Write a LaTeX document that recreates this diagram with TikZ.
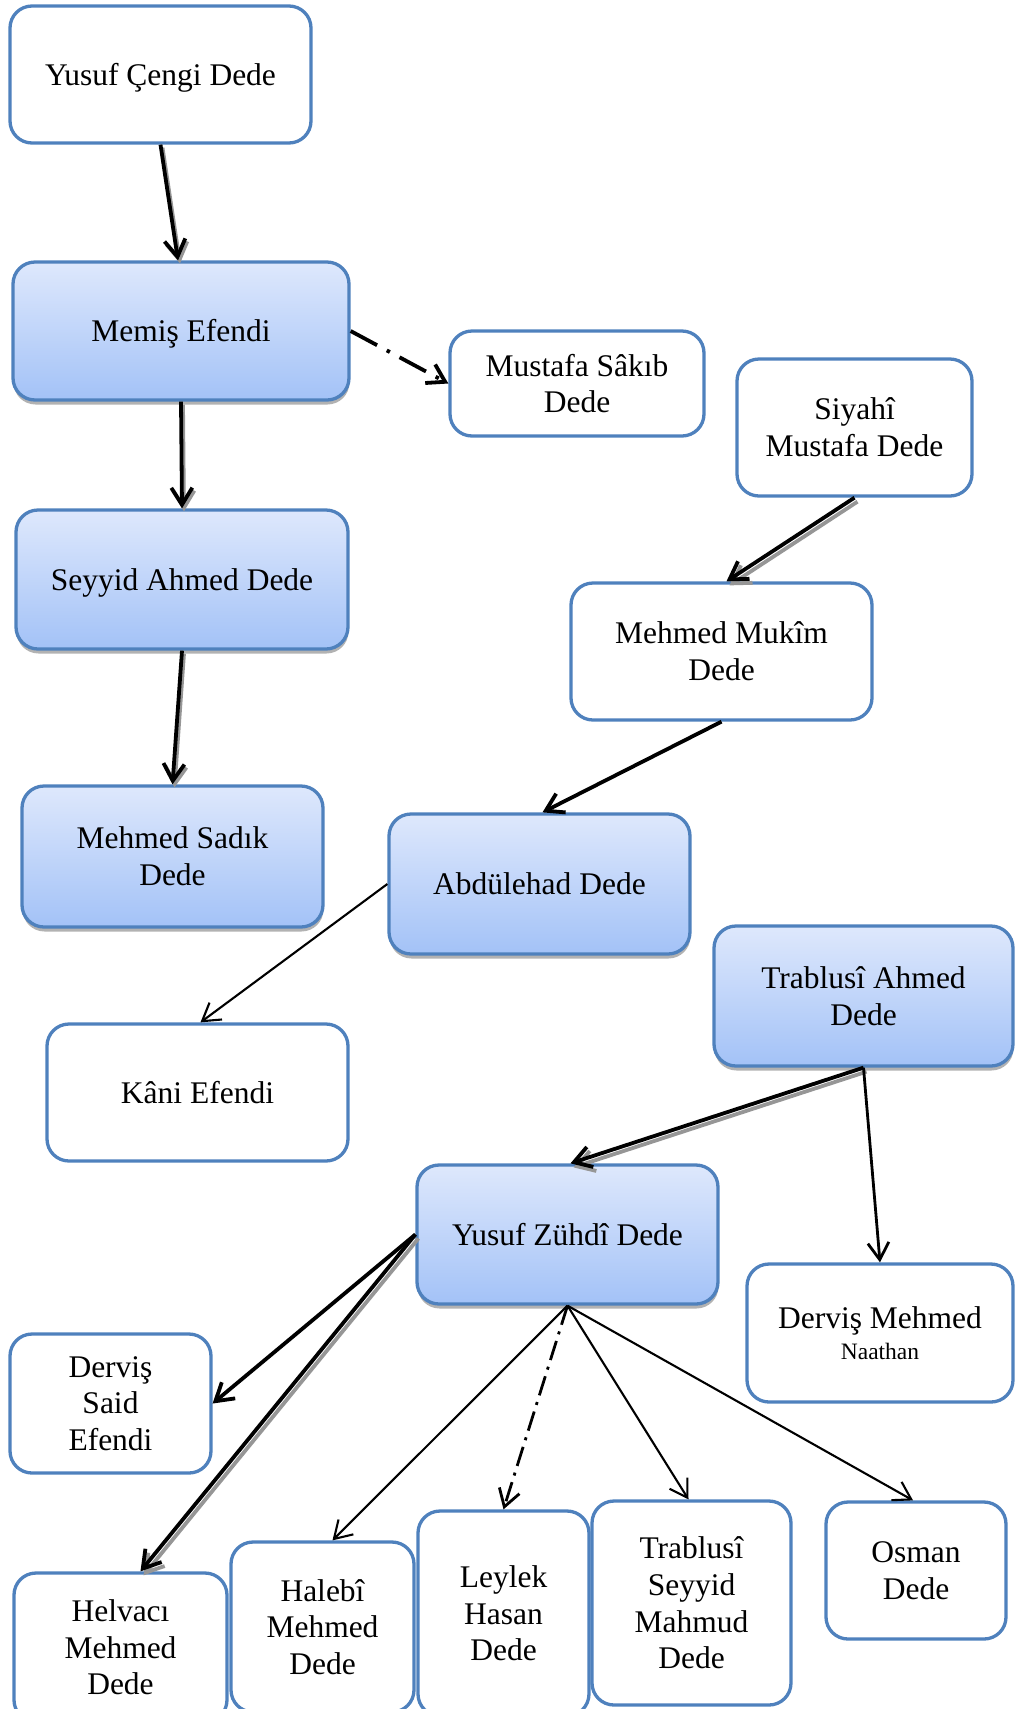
\documentclass[tikz,border=0pt]{standalone}
\usepackage{fontspec}
\setmainfont{Liberation Serif}
\usetikzlibrary{arrows.meta,shadows,calc}
\definecolor{bordblue}{RGB}{79,129,189}
\definecolor{gtop}{RGB}{222,232,252}
\definecolor{gbot}{RGB}{163,194,247}
\definecolor{shcol}{RGB}{150,150,150}
\tikzset{
 box/.style={draw=bordblue, line width=3.3pt, rounded corners=22pt, fill=white, align=center, inner sep=0pt, font=\fontsize{31.5}{36.7}\selectfont},
 oneline/.style={text height=28pt, text depth=6.8pt},
 gbox/.style={box, top color=gtop, bottom color=gbot, drop shadow={shadow xshift=0.5pt, shadow yshift=-4.5pt, fill=gray!60, opacity=1}},
 barb/.style={-{Straight Barb[length=17pt,width=21pt]}},
 thickarrow/.style={barb, line width=3.8pt},
 medarrow/.style={barb, line width=2.8pt},
 thinarrow/.style={barb, line width=2.1pt},
 shadowline/.style={draw=shcol},
 dashdot/.style={dash pattern=on 30pt off 11pt on 3.5pt off 11pt},
 dashdotb/.style={dash pattern=on 20pt off 7pt on 3pt off 7pt},
}
\begin{document}
\begin{tikzpicture}[x=1pt,y=-1pt]
\useasboundingbox (0,0) rectangle (1016,1709);
\clip (0,0) rectangle (1016,1709);
% nodes
\node[box, oneline, minimum width=301pt, minimum height=137pt] (ycengi) at (160.5,74.5) {Yusuf Çengi Dede};
\node[gbox, oneline, minimum width=336pt, minimum height=138pt] (memis) at (181,331) {Memiş Efendi};
\node[box, minimum width=254pt, minimum height=105pt] (mustafa) at (577,383.5) {Mustafa Sâkıb\\Dede};
\node[box, minimum width=235pt, minimum height=137pt] (siyahi) at (854.5,427.5) {Siyahî\\Mustafa Dede};
\node[gbox, oneline, minimum width=332pt, minimum height=139pt] (seyyid) at (182,579.5) {Seyyid Ahmed Dede};
\node[box, minimum width=301pt, minimum height=137pt] (mukim) at (721.5,651.5) {Mehmed Mukîm\\Dede};
\node[gbox, minimum width=301pt, minimum height=141pt] (sadik) at (172.5,856.5) {Mehmed Sadık\\Dede};
\node[gbox, oneline, minimum width=301pt, minimum height=140pt] (abdulehad) at (539.5,884) {Abdülehad Dede};
\node[gbox, minimum width=299pt, minimum height=140pt] (trablusi) at (863.5,996) {Trablusî Ahmed\\Dede};
\node[box, oneline, minimum width=301pt, minimum height=137pt] (kani) at (197.5,1092.5) {Kâni Efendi};
\node[gbox, oneline, minimum width=301pt, minimum height=139pt] (zuhdi) at (567.5,1234.5) {Yusuf Zühdî Dede};
\node[box, minimum width=266pt, minimum height=138pt] (dmehmed) at (880,1333) {Derviş Mehmed\\[-6pt]{\fontsize{23.5}{36.7}\selectfont Naathan}};
\node[box, minimum width=201pt, minimum height=139pt] (said) at (110.5,1403.5) {Derviş\\Said\\Efendi};
\node[box, minimum width=213pt, minimum height=149pt] (helvaci) at (120.5,1647.5) {Helvacı\\Mehmed\\Dede};
\node[box, minimum width=183pt, minimum height=170pt] (halebi) at (322.5,1627) {Halebî\\Mehmed\\Dede};
\node[box, minimum width=171pt, minimum height=205pt] (leylek) at (503.5,1613.5) {Leylek\\Hasan\\Dede};
\node[box, minimum width=199pt, minimum height=204pt] (tseyyid) at (691.5,1603) {Trablusî\\Seyyid\\Mahmud\\Dede};
\node[box, minimum width=180pt, minimum height=137pt] (osman) at (916,1570.5) {Osman\\Dede};
% connector shadows
\draw[thickarrow, shadowline] ([shift={(2pt,-3pt)}]ycengi.south) -- ([shift={(-1pt,-3pt)}]memis.north);
\draw[thickarrow, shadowline] ([shift={(2pt,-3pt)}]memis.south) -- ([shift={(2pt,-3pt)}]seyyid.north);
\draw[thickarrow, shadowline] ([shift={(2pt,-3pt)}]seyyid.south) -- ([shift={(2pt,-3pt)}]sadik.north);
\draw[thickarrow, shadowline] ([shift={(3pt,-4pt)}]siyahi.south) -- ([shift={(8pt,-4pt)}]mukim.north);
\draw[thickarrow, shadowline] ([shift={(3pt,-4pt)}]trablusi.south) -- ([shift={(6pt,-4pt)}]zuhdi.north);
\draw[thickarrow, shadowline] ([shift={(3pt,-4pt)}]zuhdi.west) -- ([shift={(23pt,-4pt)}]helvaci.north);
% connectors
\draw[thickarrow] (ycengi.south) -- ([xshift=-3pt]memis.north);
\draw[thickarrow, dashdot] (memis.east) -- (mustafa.west);
\draw[thickarrow] (memis.south) -- (seyyid.north);
\draw[thickarrow] (seyyid.south) -- (sadik.north);
\draw[thickarrow] (siyahi.south) -- ([xshift=5pt]mukim.north);
\draw[thickarrow] (mukim.south) -- ([xshift=3pt]abdulehad.north);
\draw[thinarrow] (abdulehad.west) -- ([xshift=3pt]kani.north);
\draw[thickarrow] (trablusi.south) -- ([xshift=3pt]zuhdi.north);
\draw[medarrow] (trablusi.south) -- (dmehmed.north);
\draw[thickarrow] (zuhdi.west) -- (said.east);
\draw[thickarrow] (zuhdi.west) -- ([xshift=20pt]helvaci.north);
\draw[thinarrow] (zuhdi.south) -- ([xshift=10pt]halebi.north);
\draw[medarrow, dashdotb] (zuhdi.south) -- (leylek.north);
\draw[thinarrow] (zuhdi.south) -- ([xshift=-3pt]tseyyid.north);
\draw[thinarrow] (zuhdi.south) -- ([xshift=-3pt]osman.north);
\end{tikzpicture}
\end{document}
